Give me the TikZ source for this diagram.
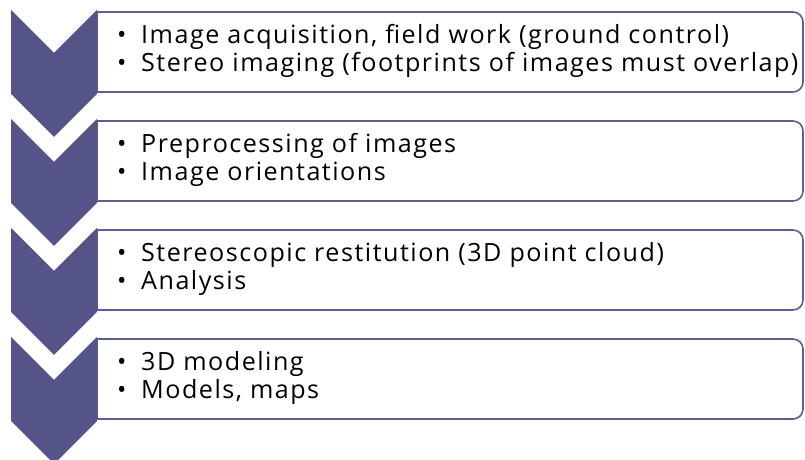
\documentclass[tikz,border=0pt]{standalone}
\usepackage{fontspec}
\setmainfont{Open Sans}[LetterSpace=6]
\definecolor{chev}{RGB}{84,84,137}
\definecolor{boxln}{RGB}{92,94,150}
\tikzset{
  chevfill/.style={fill=chev, draw=none},
  boxline/.style={draw=boxln, line width=1.6pt, fill=white},
  itemtext/.style={anchor=base west, inner sep=0pt, font=\fontsize{25.1}{26}\selectfont, text=black}
}
\newcommand{\bul}{\makebox[24pt][l]{\fontsize{25}{25}\selectfont\textbullet}}
\begin{document}
\begin{tikzpicture}[x=1pt,y=1pt]
\useasboundingbox (0,0) rectangle (805,460);
\foreach \i in {0,1,2,3}{
  \pgfmathsetmacro{\T}{448-109*\i}
  \pgfmathsetmacro{\B}{368-109*\i}
  \pgfmathsetmacro{\C}{450-109*\i}
  \draw[boxline] (97,\T) -- (793,\T) arc[start angle=90,end angle=0,radius=10] -- (803,\B+10) arc[start angle=0,end angle=-90,radius=10] -- (97,\B) -- cycle;
  \fill[chevfill] (11,\C) -- (54,\C-43) -- (97,\C) -- (97,\C-84) -- (54,\C-127) -- (11,\C-84) -- cycle;
  \coordinate (chev\i) at (54,\C);
}
\node[itemtext] (a1) at (117,416) {\bul Image acquisition, field work (ground control)};
\node[itemtext] (a2) at (117,388) {\bul Stereo imaging (footprints of images must overlap)};
\node[itemtext] (b1) at (117,307) {\bul Preprocessing of images};
\node[itemtext] (b2) at (117,279) {\bul Image orientations};
\node[itemtext] (c1) at (117,198) {\bul Stereoscopic restitution (3D point cloud)};
\node[itemtext] (c2) at (117,170) {\bul Analysis};
\node[itemtext] (d1) at (117,89) {\bul 3D modeling};
\node[itemtext] (d2) at (117,61) {\bul Models, maps};
\end{tikzpicture}
\end{document}
